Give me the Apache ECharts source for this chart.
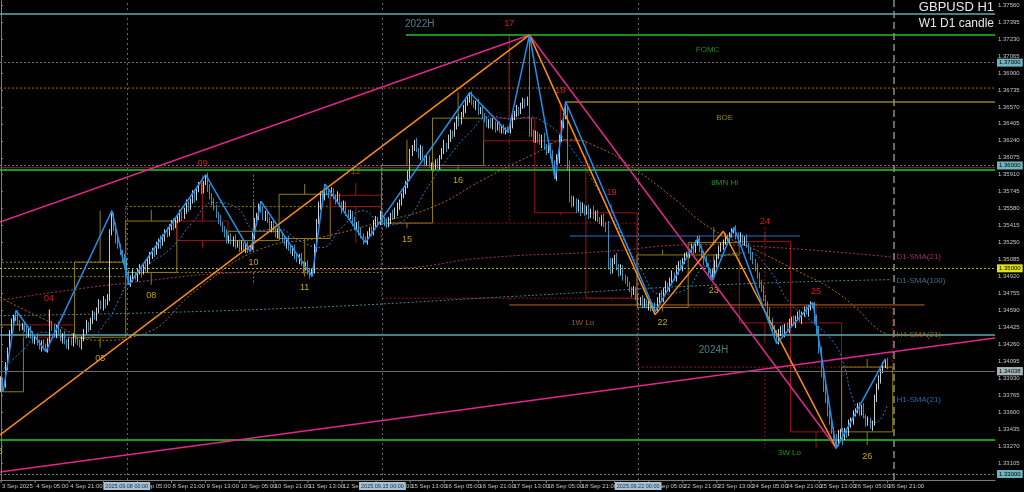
<!DOCTYPE html>
<html><head><meta charset="utf-8">
<script src="https://cdn.jsdelivr.net/npm/echarts@6/dist/echarts.min.js"></script>
<style>html,body{margin:0;padding:0;background:#000}#c{width:1024px;height:492px}</style>
</head><body><div id="c"></div>
<script>
// ---------- DATA (prices in pips above BASE) ----------
const BASE = 1.3, PIP = 0.0001;
const OPEN0 = 383;
const CLOSE_PIPS = [
392,386,405,420,438,446,452,455,447,443,445,
440,436,441,434,430,432,427,424,428,423,421,430,446,441,436,443,438,432,435,428,425,430,427,433,
430,427,425,432,438,445,443,450,455,452,460,466,462,468,466,472,535,550,541,528,522,515,510,506,
496,486,490,494,491,497,500,496,503,500,506,512,518,515,522,527,524,530,536,533,540,545,541,546,
548,553,550,556,562,559,566,572,569,576,580,576,583,588,578,570,566,558,552,547,543,538,534,527,
530,525,528,522,525,520,523,518,522,519,520,532,545,552,560,556,550,553,546,540,543,537,533,536,
532,528,524,527,520,516,519,512,508,511,505,500,503,497,494,498,520,545,560,572,568,578,574,572,
575,570,566,570,563,558,562,555,550,553,545,540,543,536,532,528,526,532,538,535,542,548,545,552,
548,545,542,547,552,550,556,560,565,570,575,582,590,612,618,622,615,610,616,608,603,607,600,601,
598,603,600,608,614,620,618,626,632,630,638,645,642,650,656,660,665,668,662,658,660,652,655,648,
644,640,643,638,641,636,639,635,637,633,635,634,640,646,650,655,652,658,662,660,664,642,632,625,
630,626,622,628,618,614,618,610,602,590,605,625,640,648,655,600,568,562,566,558,562,556,560,554,
558,552,556,550,553,548,545,549,543,540,505,498,506,510,502,495,500,492,488,484,480,476,479,472,
466,470,465,468,463,466,461,464,460,468,474,470,478,484,480,488,494,490,498,504,500,508,512,513,
516,520,518,524,528,520,514,508,503,497,492,495,505,512,518,522,526,530,528,533,536,538,532,527,
530,526,529,522,518,512,506,500,494,486,480,472,465,458,450,442,436,430,436,441,437,444,440,447,
450,446,452,455,450,456,460,457,462,465,463,450,441,420,398,385,372,360,350,342,336,330,338,341,
336,342,339,348,352,358,362,366,360,364,356,350,352,346,350,372,385,392,400,406,410,404];
const UPPER_WICK = [
3,2,4,3,2,5,3,2,4,3,2,
3,4,2,3,5,2,3,4,2,3,4,2,14,3,4,2,5,3,2,4,3,2,3,4,
2,3,4,2,3,5,3,2,4,3,2,4,3,5,2,3,3,6,4,3,5,2,3,4,
4,2,3,5,2,3,4,3,2,5,3,4,2,3,4,2,5,3,2,4,3,2,4,3,
3,4,2,3,5,3,2,4,3,2,4,3,2,3,5,4,3,2,4,3,5,2,3,4,
2,4,3,5,2,3,4,2,3,4,2,3,4,2,3,5,4,3,2,4,3,5,2,3,
3,2,4,3,5,2,3,4,2,3,4,2,3,5,3,2,4,3,5,3,2,4,3,2,
4,3,2,5,3,2,4,3,2,4,3,5,2,3,4,2,3,4,2,3,5,3,2,4,
3,2,4,3,2,5,3,4,2,3,4,3,5,4,2,3,5,2,4,3,2,4,3,2,
2,3,4,2,3,5,2,4,3,2,4,3,5,2,3,4,3,3,4,2,3,5,2,4,
3,4,2,3,5,2,3,4,2,3,2,3,4,5,3,4,2,3,4,3,3,63,4,3,
4,3,5,2,4,3,2,4,5,3,6,5,4,3,7,2,5,3,4,2,5,3,4,2,
3,4,2,5,3,4,2,3,4,2,6,5,4,3,5,2,4,3,2,4,3,2,4,3,
3,2,4,3,2,4,3,2,3,4,2,5,3,4,2,3,4,2,5,3,4,2,3,3,
3,4,2,3,3,4,2,3,4,2,3,4,3,2,4,3,2,4,3,2,3,2,4,3,
5,3,2,4,3,2,4,3,5,2,3,4,2,3,4,2,3,4,5,3,4,2,3,4,
3,4,2,3,5,2,3,4,2,3,2,4,5,3,4,6,3,4,2,3,4,3,5,3,
4,3,2,5,3,4,2,3,4,3,5,2,4,3,2,5,3,4,2,3,2,3];
const LOWER_WICK = [
3,6,2,4,3,2,4,3,2,4,3,
2,4,3,2,3,4,2,3,5,2,2,3,4,2,3,4,2,3,5,2,3,4,2,3,
3,2,2,4,3,2,5,3,4,2,3,4,2,3,5,2,4,3,5,4,3,2,4,3,
3,2,4,3,2,4,3,5,2,3,4,2,3,4,2,3,5,2,4,3,2,3,4,2,
2,3,4,2,3,4,2,3,5,3,2,4,3,2,4,3,5,2,3,4,2,3,4,3,
3,2,4,3,2,4,3,2,3,4,3,2,4,3,5,2,3,4,2,3,5,2,3,4,
4,3,2,5,3,2,4,3,2,4,3,5,2,3,4,2,3,4,2,3,5,2,3,4,
2,3,4,2,3,5,2,4,3,2,4,3,2,4,3,5,1,3,2,4,3,2,4,3,
3,4,3,2,4,3,2,5,3,4,2,3,4,5,3,4,2,3,5,2,4,3,2,4,
4,2,3,4,2,3,5,2,3,4,2,3,4,2,3,5,2,4,3,2,4,3,2,3,
2,3,4,2,3,4,2,3,4,2,3,2,3,4,2,3,4,2,3,4,2,14,4,3,
3,4,2,5,3,4,2,3,4,3,5,3,2,4,3,5,4,3,2,4,3,5,2,3,
2,4,3,2,4,3,2,4,3,5,6,4,3,2,4,3,2,4,3,2,3,4,2,3,
3,2,4,3,2,4,3,2,2,3,4,2,3,4,2,3,4,2,3,4,2,3,4,2,
3,2,4,3,2,4,3,5,2,4,3,3,2,4,3,2,4,3,2,4,3,2,4,3,
2,3,4,2,3,4,2,3,4,5,3,4,2,3,4,3,2,3,4,2,3,4,2,3,
3,2,4,3,2,4,3,2,4,3,2,4,5,3,4,5,3,4,2,3,4,5,3,4,
8,3,4,2,3,4,2,3,4,3,2,4,3,2,4,3,2,3,4,2,3,2];

// Daily candles (W1 D1 candle indicator), pips
const DAY_LABELS = ['03','04','05','08','09','10','11','12','15','16','17','18','19','22','23','24','25','26'];
const DAY_START  = [-13,11,35,59,83,107,131,155,179,203,227,251,275,299,323,347,371,395];
const DAY_OPEN   = [380,445,433,496,546,527,529,571,544,600,646,624,554,462,513,526,447,341];
const DAY_CLOSE  = [445,433,506,546,527,536,572,560,600,646,624,554,471,513,525,447,341,404];
const DAY_HIGH   = [459,460,556,557,591,565,582,583,625,671,727,662,563,518,540,535,467,412];
const DAY_LOW    = [333,419,423,484,520,516,492,525,539,596,622,552,469,458,489,427,325,328];
// Weekly candles, pips
const WEEK_START = [-61,59,179,299];
const WEEK_OPEN  = [492,496,544,462];
const WEEK_CLOSE = [506,560,471,404];
const WEEK_HIGH  = [556,591,727,540];
const WEEK_LOW   = [333,484,469,325];

// Zigzags [bar index, pips]
const ZZ_BLUE = [[1,380],[7,459],[21,419],[52,556],[60,484],[96,591],[117,516],[122,565],[146,492],[152,582],[171,525],[220,671],[238,632],[248,727],[260,587],[265,662],[307,458],[327,529],[334,489],[344,540],[364,427],[381,467],[392,325],[415,412]];
const ZZ_ORANGE = [[-0.5,338],[248,727],[307,455],[339,536],[392,325]];
// Trend lines [bar index, price]
const TL_UP_MAGENTA = [[-0.5,1.35450],[248,1.37269]];
const TL_DOWN_MAGENTA = [[248,1.37269],[392,1.33253]];
const TL_LONG_MAGENTA = [[-0.5,1.33020],[466.5,1.34323]];

// Moving averages [bar index, pips]
const SMA_D1_21 = [[-0.5,469],[60,486],[121,497],[187,500],[226,510],[281,516],[328,523],[365,520],[418,511]];
const SMA_D1_100 = [[-0.5,454],[121,460],[243,473],[337,484],[418,489]];
const SMA_H4_21 = [[-0.5,472],[23,448],[46,430],[65,435],[93,481],[121,518],[150,530],[178,545],[203,560],[226,586],[249,610],[267,625],[281,617],[295,600],[314,571],[333,539],[356,516],[375,496],[389,481],[401,462],[412,440],[418,435]];
const SMA_H1_21 = [[0,400],[10,420],[20,438],[30,433],[40,432],[50,450],[55,468],[60,487],[70,505],[80,520],[90,545],[100,564],[110,560],[120,537],[130,538],[140,527],[150,520],[160,540],[170,556],[180,542],[190,548],[200,578],[210,608],[220,632],[230,648],[240,645],[248,647],[255,642],[262,631],[270,610],[280,577],[290,537],[300,500],[310,475],[320,478],[330,502],[340,513],[350,515],[360,500],[370,467],[380,449],[390,430],[395,410],[400,372],[405,356],[410,350],[416,367]];

// Horizontal levels
const LEVEL_NAMES  = ['2022H','FOMC','D1 level','BOE','8MN Hi','8MN Hi r','Box top','1W Lo','2024H','3W Lo'];
const LEVEL_PRICES = [1.37473,1.37269,1.36753,1.36617,1.35956,1.35978,1.35314,1.34644,1.34352,1.33331];
const LEVEL_FROM   = [-0.5,190,-0.5,265,-0.5,-0.5,267,238.5,-0.5,-0.5];
const LEVEL_TO     = [466.5,466.5,466.5,466.5,466.5,466.5,375,433.5,466.5,466.5];
const ROUND_PRICES = [1.37,1.36,1.35,1.34,1.33];
const BID_PRICE = 1.34038;
const SEPARATORS = [59,179,299];
const SEPARATOR_TEXT = ['2025.09.08 00:00','2025.09.15 00:00','2025.09.22 00:00'];
const NEXT_WEEK = 419;

// Text annotations
const TEXT_STR   = ['2022H','FOMC','BOE','8MN Hi','1W Lo','2024H','3W Lo','D1-SMA(21)','D1-SMA(100)','H4-SMA(21)','H1-SMA(21)'];
const TEXT_IDX   = [196.5,331.6,339.6,339.6,273,334.4,370,420.3,420.3,420.3,420.3];
const TEXT_PRICE = [1.37376,1.37123,1.36462,1.35830,1.34468,1.34206,1.33205,1.35111,1.34877,1.34352,1.33720];

// Axis ticks
const TICK_STEP = 16;
const TICK_LABELS = ['3 Sep 2025','4 Sep 05:00','4 Sep 21:00','5 Sep 13:00','8 Sep 05:00','8 Sep 21:00','9 Sep 13:00','10 Sep 05:00','10 Sep 21:00','11 Sep 13:00','12 Sep 05:00','12 Sep 21:00','15 Sep 13:00','16 Sep 05:00','16 Sep 21:00','17 Sep 13:00','18 Sep 05:00','18 Sep 21:00','19 Sep 13:00','22 Sep 05:00','22 Sep 21:00','23 Sep 13:00','24 Sep 05:00','24 Sep 21:00','25 Sep 13:00','26 Sep 05:00','26 Sep 21:00'];
const Y_TICKS = [1.33105,1.33270,1.33435,1.33600,1.33765,1.33930,1.34095,1.34260,1.34425,1.34590,1.34755,1.34920,1.35085,1.35250,1.35415,1.35580,1.35745,1.35910,1.36075,1.36240,1.36405,1.36570,1.36735,1.36900,1.37065,1.37230,1.37395,1.37560];
const Y_MIN = 1.32942, Y_MAX = 1.37609;
const N_SLOTS = 467;

// ---------- BUILD ----------
const FONT = 'Liberation Sans';
const NARROW = '"Liberation Sans Narrow", "Liberation Sans", sans-serif';
const toPrice = p => +(BASE + p * PIP).toFixed(5);
const categories = Array.from({length: N_SLOTS}, (_, i) => String(i));
const candles = CLOSE_PIPS.map((c, i) => {
  const o = i === 0 ? OPEN0 : CLOSE_PIPS[i - 1];
  const hi = Math.max(o, c) + UPPER_WICK[i];
  const lo = Math.min(o, c) - LOWER_WICK[i];
  return [toPrice(o), toPrice(c), toPrice(lo), toPrice(hi)];
});
const OLIVE = '#8f7d12', DARK_RED = '#9a1414', GOLD_TXT = '#c4a222', RED_TXT = '#d81c1c';
function boxData(starts, len, O, C, H, L) {
  return starts.map((s, k) => [s - 0.5, s + len - 0.5, toPrice(O[k]), toPrice(C[k]), toPrice(H[k]), toPrice(L[k]), s + (len - 1) / 2, k]);
}
function boxRender(dash, withLabels) {
  return function (params, api) {
    const x0 = api.value(0), x1 = api.value(1), o = api.value(2), c = api.value(3), h = api.value(4), l = api.value(5), xm = api.value(6), k = api.value(7);
    const bull = c >= o;
    const col = bull ? OLIVE : DARK_RED;
    const a = api.coord([x0, Math.max(o, c)]);
    const b = api.coord([x1, Math.min(o, c)]);
    const ph = api.coord([xm, h]);
    const pl = api.coord([xm, l]);
    const st = {stroke: col, fill: 'none', lineWidth: 1, lineDash: dash};
    const children = [
      {type: 'rect', shape: {x: a[0], y: a[1], width: b[0] - a[0], height: Math.max(1, b[1] - a[1])}, style: st},
      {type: 'line', shape: {x1: ph[0], y1: ph[1], x2: ph[0], y2: a[1]}, style: st},
      {type: 'line', shape: {x1: pl[0], y1: b[1], x2: pl[0], y2: pl[1]}, style: st}
    ];
    if (withLabels) {
      children.push({type: 'text', x: ph[0], y: bull ? pl[1] + 11 : ph[1] - 11,
        style: {text: DAY_LABELS[k], fill: bull ? GOLD_TXT : RED_TXT, fontSize: 9, fontFamily: FONT, align: 'center', verticalAlign: 'middle'}});
    }
    const cs = params.coordSys;
    return {type: 'group', children: children, clipPath: {type: 'rect', shape: {x: cs.x, y: cs.y, width: cs.width, height: cs.height}}};
  };
}
const pipLine = arr => arr.map(p => [p[0], toPrice(p[1])]);
function lineSeries(name, data, color, width, type, smooth, z) {
  return {name, type: 'line', xAxisIndex: 1, yAxisIndex: 0, data, symbol: 'none', smooth: !!smooth, silent: true, z: z || 4,
    lineStyle: {color, width, type: type || 'solid'}, clip: true};
}
const LEVEL_STYLE = [
  {color: '#64a9ad', width: 1.5, type: 'solid'},
  {color: '#1fc21f', width: 1.5, type: 'solid'},
  {color: '#b2620e', width: 1, type: [2, 2]},
  {color: '#8f8312', width: 1.5, type: 'solid'},
  {color: '#19d419', width: 1.5, type: 'solid'},
  {color: '#9c1d55', width: 1, type: 'solid'},
  {color: '#2a6fd0', width: 1, type: 'solid'},
  {color: '#c0680c', width: 1, type: 'solid'},
  {color: '#64a9ad', width: 1.5, type: 'solid'},
  {color: '#19d419', width: 1.5, type: 'solid'}
];
const TEXT_STYLE = [
  {color: '#5f9ea0', size: 10, pos: 'inside'},
  {color: '#1fb41f', size: 8, pos: 'inside'},
  {color: '#b3a21e', size: 8, pos: 'inside'},
  {color: '#1fc21f', size: 8, pos: 'inside'},
  {color: '#c8700c', size: 8, pos: 'inside'},
  {color: '#5f9ea0', size: 10, pos: 'inside'},
  {color: '#1fc21f', size: 8, pos: 'inside'},
  {color: '#c23a7c', size: 8, pos: 'right'},
  {color: '#4c8c98', size: 8, pos: 'right'},
  {color: '#c8780e', size: 8, pos: 'right'},
  {color: '#2f82d6', size: 8, pos: 'right'}
];
const ROUND_TAG = ['#6fb5c0', '#6fb5c0', '#e2e21a', '#6fb5c0', '#6fb5c0'];
const ROUND_LINE = ['#6f6f6f', '#6f6f6f', '#b8b81a', '#4f8c92', '#4f8c92'];

const series = [];
series.push({type: 'custom', name: 'W1', xAxisIndex: 1, yAxisIndex: 0, renderItem: boxRender([2, 2], false), data: boxData(WEEK_START, 120, WEEK_OPEN, WEEK_CLOSE, WEEK_HIGH, WEEK_LOW), z: 1, silent: true});
series.push({type: 'custom', name: 'D1', xAxisIndex: 1, yAxisIndex: 0, renderItem: boxRender(null, true), data: boxData(DAY_START, 24, DAY_OPEN, DAY_CLOSE, DAY_HIGH, DAY_LOW), z: 2, silent: true});
LEVEL_PRICES.forEach((p, k) => {
  const s = LEVEL_STYLE[k];
  series.push(lineSeries(LEVEL_NAMES[k], [[LEVEL_FROM[k], p], [LEVEL_TO[k], p]], s.color, s.width, s.type, false, 2));
});
series.push(lineSeries('D1-SMA(21)', pipLine(SMA_D1_21), '#a8306a', 1, [2, 2], true, 2));
series.push(lineSeries('D1-SMA(100)', pipLine(SMA_D1_100), '#3f8691', 1, [2, 2], true, 2));
series.push(lineSeries('H4-SMA(21)', pipLine(SMA_H4_21), '#b8680e', 1, [2, 2], true, 2));
series.push(lineSeries('H1-SMA(21)', pipLine(SMA_H1_21), '#2a78cc', 1, [2, 2], true, 2));
series.push({
  type: 'line', name: 'levels', xAxisIndex: 1, yAxisIndex: 0, data: [[0, toPrice(CLOSE_PIPS[0])]], symbol: 'none', lineStyle: {width: 0}, z: 2, silent: true,
  markLine: {
    symbol: ['none', 'none'], silent: true, animation: false,
    data: ROUND_PRICES.map((p, k) => ({yAxis: p, lineStyle: {type: [2, 2], color: ROUND_LINE[k], width: 1},
      label: {show: true, position: 'end', distance: 2, formatter: p.toFixed(5), backgroundColor: ROUND_TAG[k], color: '#000', fontSize: 6, fontFamily: FONT, padding: [1, 2]}}))
      .concat([{yAxis: BID_PRICE, lineStyle: {type: 'solid', color: '#6a6a6a', width: 1},
        label: {show: true, position: 'end', distance: 2, formatter: BID_PRICE.toFixed(5), backgroundColor: '#a9b4b6', color: '#000', fontSize: 6, fontFamily: FONT, padding: [1, 2]}}])
      .concat(SEPARATORS.map(x => ({xAxis: x, lineStyle: {type: [2, 3], color: '#5d6870', width: 1}, label: {show: false}})))
      .concat([{xAxis: NEXT_WEEK, lineStyle: {type: [7, 4], color: '#8c8c8c', width: 1.5}, label: {show: false}}])
  }
});
series.push({
  type: 'candlestick', name: 'GBPUSD', xAxisIndex: 0, yAxisIndex: 0, data: candles, barWidth: 1.2, z: 3, silent: true,
  itemStyle: {color: '#ffffff', color0: '#45b4e4', borderColor: '#ffffff', borderColor0: '#45b4e4', borderWidth: 0.8}
});
series.push(lineSeries('mag up', TL_UP_MAGENTA, '#e3268e', 1.5, 'solid', false, 4));
series.push(lineSeries('mag down', TL_DOWN_MAGENTA, '#e3268e', 1.5, 'solid', false, 4));
series.push(lineSeries('mag long', TL_LONG_MAGENTA, '#e3268e', 1.5, 'solid', false, 4));
series.push(lineSeries('zz orange', pipLine(ZZ_ORANGE), '#ff8c0a', 1.5, 'solid', false, 4));
series.push(lineSeries('zz blue', pipLine(ZZ_BLUE), '#2090f0', 1.5, 'solid', false, 5));
series.push({
  type: 'scatter', name: 'texts', xAxisIndex: 1, yAxisIndex: 0, symbolSize: 0, z: 6, silent: true,
  data: TEXT_STR.map((t, k) => ({value: [TEXT_IDX[k], TEXT_PRICE[k]],
    label: {show: true, formatter: t, position: TEXT_STYLE[k].pos, distance: 0, color: TEXT_STYLE[k].color, fontSize: TEXT_STYLE[k].size, fontFamily: FONT}}))
});
// time-axis labels (drawn through the x scale) + separator tags
series.push({
  type: 'custom', name: 'timeLabels', xAxisIndex: 1, yAxisIndex: 0, silent: true, z: 7, clip: false,
  data: TICK_LABELS.map((t, k) => [k * TICK_STEP, Y_MIN, k]),
  renderItem: function (params, api) {
    const p = api.coord([api.value(0), api.value(1)]);
    return {type: 'group', children: [
      {type: 'line', shape: {x1: p[0], y1: p[1], x2: p[0], y2: p[1] + 3}, style: {stroke: '#7c7c7c', lineWidth: 1}},
      {type: 'text', x: p[0] + 1, y: p[1] + 6, style: {text: TICK_LABELS[api.value(2)], fill: '#c4c4c4', fontSize: 6, fontFamily: NARROW, align: 'left', verticalAlign: 'middle'}}
    ]};
  }
});
series.push({
  type: 'custom', name: 'sepTags', xAxisIndex: 1, yAxisIndex: 0, silent: true, z: 8, clip: false,
  data: SEPARATORS.map((x, k) => [x, Y_MIN, k]),
  renderItem: function (params, api) {
    const p = api.coord([api.value(0), api.value(1)]);
    return {type: 'text', x: p[0], y: p[1] + 6, style: {text: SEPARATOR_TEXT[api.value(2)], fill: '#1a2a3a', fontSize: 5.5, fontFamily: NARROW,
      align: 'center', verticalAlign: 'middle', backgroundColor: '#a8c0d2', padding: [1, 2]}};
  }
});

const chart = echarts.init(document.getElementById('c'), null, {renderer: 'canvas'});
chart.setOption({
  backgroundColor: '#000000',
  animation: false,
  grid: {left: 0, right: 29, top: 0, bottom: 12, containLabel: false},
  xAxis: [
    {type: 'category', data: categories, boundaryGap: true,
      axisLine: {show: true, lineStyle: {color: '#7c7c7c'}},
      axisTick: {show: false}, axisLabel: {show: false}, splitLine: {show: false}},
    {type: 'value', min: -0.5, max: N_SLOTS - 0.5, show: false, splitLine: {show: false}}
  ],
  yAxis: [{type: 'value', position: 'right', min: Y_MIN, max: Y_MAX, scale: true,
    splitLine: {show: false},
    axisLine: {show: true, lineStyle: {color: '#7c7c7c'}},
    axisTick: {show: true, customValues: Y_TICKS, length: 2, lineStyle: {color: '#7c7c7c'}},
    axisLabel: {show: true, customValues: Y_TICKS, formatter: v => v.toFixed(5), color: '#c4c4c4', fontSize: 6, fontFamily: FONT, margin: 3}}],
  graphic: [
    {type: 'text', right: 30, top: 1, style: {text: 'GBPUSD H1', fill: '#e8e8e8', fontSize: 13, fontFamily: FONT}},
    {type: 'text', right: 30, top: 18, style: {text: 'W1 D1 candle', fill: '#e8e8e8', fontSize: 12, fontFamily: FONT}}
  ],
  series: series
});
</script>
</body></html>
